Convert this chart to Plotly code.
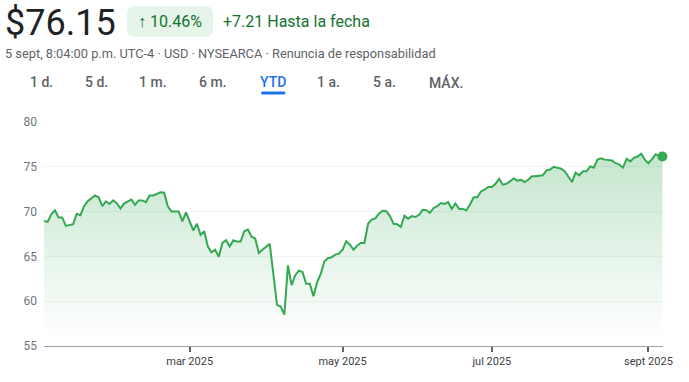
import plotly.graph_objects as go

# ---------------- data ----------------
dates = [
    "2024-12-31", "2025-01-02", "2025-01-03", "2025-01-06", "2025-01-07", "2025-01-08",
    "2025-01-10", "2025-01-13", "2025-01-14", "2025-01-15", "2025-01-16", "2025-01-17",
    "2025-01-21", "2025-01-23", "2025-01-24", "2025-01-27", "2025-01-28", "2025-01-29",
    "2025-01-30", "2025-01-31",
    "2025-02-03", "2025-02-04", "2025-02-06", "2025-02-07", "2025-02-10", "2025-02-11",
    "2025-02-12", "2025-02-13", "2025-02-14", "2025-02-19", "2025-02-20", "2025-02-21",
    "2025-02-24", "2025-02-26", "2025-02-27", "2025-02-28",
    "2025-03-03", "2025-03-04", "2025-03-05", "2025-03-06", "2025-03-07", "2025-03-10",
    "2025-03-11", "2025-03-12", "2025-03-13", "2025-03-14", "2025-03-17", "2025-03-18",
    "2025-03-19", "2025-03-20", "2025-03-21", "2025-03-24", "2025-03-25", "2025-03-26",
    "2025-03-27", "2025-03-28", "2025-03-31",
    "2025-04-01", "2025-04-02", "2025-04-03", "2025-04-04", "2025-04-07", "2025-04-08",
    "2025-04-09", "2025-04-10", "2025-04-11", "2025-04-14", "2025-04-15", "2025-04-16",
    "2025-04-17", "2025-04-21", "2025-04-22", "2025-04-23", "2025-04-24", "2025-04-25",
    "2025-04-28", "2025-04-29", "2025-04-30",
    "2025-05-01", "2025-05-02", "2025-05-05", "2025-05-06", "2025-05-07", "2025-05-08",
    "2025-05-09", "2025-05-12", "2025-05-13", "2025-05-14", "2025-05-15", "2025-05-16",
    "2025-05-19", "2025-05-20", "2025-05-21", "2025-05-22", "2025-05-23", "2025-05-27",
    "2025-05-28", "2025-05-29", "2025-05-30",
    "2025-06-02", "2025-06-03", "2025-06-04", "2025-06-05", "2025-06-06", "2025-06-09",
    "2025-06-10", "2025-06-11", "2025-06-12", "2025-06-13", "2025-06-16", "2025-06-17",
    "2025-06-18", "2025-06-20", "2025-06-23", "2025-06-24", "2025-06-25", "2025-06-26",
    "2025-06-27", "2025-06-30",
    "2025-07-01", "2025-07-02", "2025-07-03", "2025-07-07", "2025-07-08", "2025-07-10",
    "2025-07-11", "2025-07-14", "2025-07-15", "2025-07-16", "2025-07-17", "2025-07-18",
    "2025-07-22", "2025-07-23", "2025-07-24", "2025-07-25", "2025-07-28", "2025-07-29",
    "2025-07-30",
    "2025-08-01", "2025-08-04", "2025-08-05", "2025-08-06", "2025-08-07", "2025-08-08",
    "2025-08-11", "2025-08-12", "2025-08-13", "2025-08-14", "2025-08-18", "2025-08-19",
    "2025-08-20", "2025-08-21", "2025-08-22", "2025-08-25", "2025-08-26", "2025-08-27",
    "2025-08-28", "2025-08-29",
    "2025-09-02", "2025-09-03", "2025-09-04", "2025-09-05", "2025-09-05 20:04",
]

prices = [
    68.94, 68.85, 69.70, 70.15, 69.35, 69.35,
    68.40, 68.50, 68.60, 69.75, 69.60, 70.60,
    71.15, 71.80, 71.60, 70.60, 71.15, 70.85,
    71.25, 70.95,
    70.35, 70.90, 71.35, 70.75, 71.25, 71.25,
    71.05, 71.80, 71.80, 72.15, 72.10, 70.60,
    70.00, 70.00, 68.90, 69.90,
    68.90, 67.90, 68.65, 67.40, 67.80, 66.10,
    65.45, 65.75, 64.95, 66.50, 66.80, 66.10,
    66.80, 66.65, 66.65, 67.80, 68.00, 67.20,
    67.00, 65.40, 65.75,
    66.05, 66.40, 63.00, 59.60, 59.40, 58.50,
    64.00, 61.80, 62.90, 63.40, 63.25, 61.95,
    61.95, 60.55, 62.10, 63.05, 64.45, 64.80,
    64.90, 65.20, 65.30,
    65.75, 66.70, 66.30, 65.75, 66.20, 66.50,
    66.50, 68.65, 69.10, 69.25, 69.80, 70.10,
    70.05, 69.50, 68.65, 68.60, 68.30, 69.55,
    69.20, 69.50, 69.40,
    69.65, 70.20, 70.15, 69.85, 70.40, 70.60,
    70.95, 70.85, 71.05, 70.30, 70.90, 70.30,
    70.30, 70.15, 70.80, 71.60, 71.60, 72.25,
    72.45, 72.75,
    72.75, 73.10, 73.65, 73.00, 73.10, 73.70,
    73.45, 73.55, 73.30, 73.55, 73.95, 73.95,
    74.05, 74.60, 74.70, 75.00, 74.90, 74.80,
    74.50,
    73.30, 74.35, 74.05, 74.50, 74.50, 75.05,
    74.90, 75.80, 75.95, 75.80, 75.70, 75.40,
    75.25, 74.90, 75.90, 75.60, 76.00, 76.15,
    76.45, 75.80,
    75.40, 75.85, 76.40, 76.15, 76.15,
]

market_holidays = ["2025-01-01", "2025-01-09", "2025-01-20", "2025-02-17", "2025-04-18",
                   "2025-05-26", "2025-06-19", "2025-07-04", "2025-09-01"]

tick_dates = ["2025-03-03", "2025-05-01", "2025-07-01", "2025-09-02"]
tick_labels = ["mar 2025", "may 2025", "jul 2025", "sept 2025"]

y_ticks = [55, 60, 65, 70, 75, 80]

price_text = "$76.15"
change_pct = "↑ 10.46%"
change_abs = "+7.21 Hasta la fecha"
subtitle = "5 sept, 8:04:00 p.m. UTC-4 · USD · NYSEARCA · Renuncia de responsabilidad"
tabs = ["1 d.", "5 d.", "1 m.", "6 m.", "YTD", "1 a.", "5 a.", "MÁX."]
active_tab = "YTD"

# ---------------- layout helpers ----------------
WIDTH, HEIGHT = 689, 382
# plot area in window pixels: x 44..663, y 122..346
ML, MT = 44, 122
MR = WIDTH - 663
MB = HEIGHT - 346
PW = WIDTH - ML - MR
PH = HEIGHT - MT - MB


def px(x):
    """window x pixel -> paper x"""
    return (x - ML) / PW


def py(y):
    """window y pixel -> paper y"""
    return (HEIGHT - MB - y) / PH


def rounded_rect(x0, y0, x1, y1, r):
    pts = [
        ("M", [(x0 + r, y0)]),
        ("L", [(x1 - r, y0)]),
        ("Q", [(x1, y0), (x1, y0 + r)]),
        ("L", [(x1, y1 - r)]),
        ("Q", [(x1, y1), (x1 - r, y1)]),
        ("L", [(x0 + r, y1)]),
        ("Q", [(x0, y1), (x0, y1 - r)]),
        ("L", [(x0, y0 + r)]),
        ("Q", [(x0, y0), (x0 + r, y0)]),
    ]
    s = ""
    for cmd, coords in pts:
        s += cmd + " " + " ".join(f"{px(a):.5f},{py(b):.5f}" for a, b in coords) + " "
    return s + "Z"


GREEN = "#34a853"
FONT = "Roboto"

fig = go.Figure()

fig.add_trace(go.Scatter(
    x=dates, y=prices, mode="lines",
    line=dict(color=GREEN, width=2),
    fill="tozeroy",
    fillgradient=dict(type="vertical", start=56, stop=77,
                      colorscale=[[0, "rgba(52,168,83,0)"], [1, "rgba(52,168,83,0.30)"]]),
    hoverinfo="skip", showlegend=False,
))

fig.add_trace(go.Scatter(
    x=[dates[-1]], y=[prices[-1]], mode="markers",
    marker=dict(color=GREEN, size=10),
    hoverinfo="skip", showlegend=False, cliponaxis=False,
))


def note(text, x, y, size, color, anchor="left", weight=None):
    f = dict(family=FONT, size=size, color=color)
    if weight:
        f["weight"] = weight
    return dict(text=text, x=px(x), y=py(y), xref="paper", yref="paper",
                xanchor=anchor, yanchor="middle", font=f, showarrow=False)


annotations = [
    note(price_text, 3, 23, 36, "#202124"),
    note(change_pct, 170, 21.5, 16, "#137333", anchor="center"),
    note(change_abs, 221, 21.5, 16, "#137333"),
    note(subtitle, 3, 53, 12.8, "#5f6368"),
]

tab_centers = [41, 96, 153, 213, 273, 328.5, 384.5, 445.5]
for name, cx in zip(tabs, tab_centers):
    annotations.append(note(name, cx, 82, 14,
                            "#1a73e8" if name == active_tab else "#5f6368",
                            anchor="center", weight=500))

shapes = [
    dict(type="path", xref="paper", yref="paper", path=rounded_rect(127, 6, 213, 37, 8),
         fillcolor="#e6f4ea", line=dict(width=0), layer="below"),
    dict(type="path", xref="paper", yref="paper", path=rounded_rect(261, 91.5, 285.5, 94.5, 1.5),
         fillcolor="#1a73e8", line=dict(width=0)),
]

fig.update_layout(
    width=WIDTH, height=HEIGHT,
    margin=dict(l=ML, r=MR, t=MT, b=MB),
    paper_bgcolor="white", plot_bgcolor="white",
    font=dict(family=FONT),
    annotations=annotations,
    shapes=shapes,
    hovermode=False,
)

fig.update_xaxes(
    type="date",
    range=["2024-12-31", "2025-09-05 23:59:59"],
    rangebreaks=[dict(bounds=["sat", "mon"]), dict(values=market_holidays)],
    tickvals=tick_dates, ticktext=tick_labels,
    ticks="outside", ticklen=5, tickwidth=2, tickcolor="#5f6368",
    tickfont=dict(family=FONT, size=11, color="#3c4043"),
    showgrid=False, zeroline=False,
    showline=True, linecolor="#9aa0a6", linewidth=1,
)

fig.update_yaxes(
    range=[55, 80], tickvals=y_ticks,
    showgrid=True, gridcolor="#f1f3f4", gridwidth=1,
    zeroline=False, showline=False,
    tickfont=dict(family=FONT, size=12, color="#70757a"),
    ticklabelstandoff=6,
)

# remove the browser's default 8px body margin so the figure fills the window
fig.write_html("out.html", config=dict(displayModeBar=False),
               post_script="document.body.style.margin='0';")
